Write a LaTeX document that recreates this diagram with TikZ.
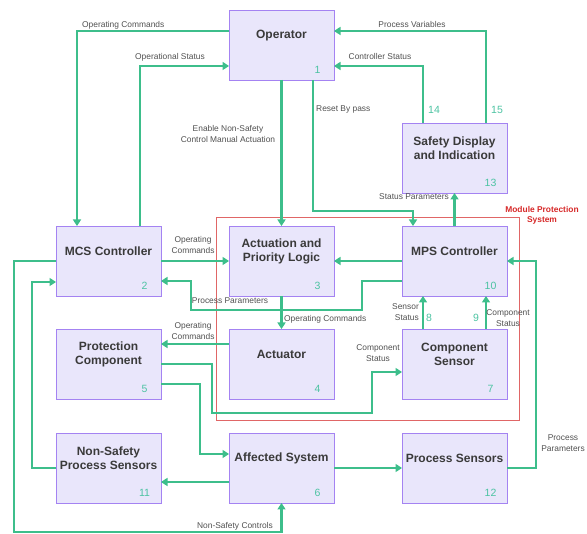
\documentclass[tikz,border=0pt]{standalone}
\usepackage{fontspec}
\setmainfont{Liberation Sans}
\usetikzlibrary{arrows.meta,calc}

\definecolor{flow}{HTML}{3DBE8B}
\definecolor{boxfill}{HTML}{E9E6FB}
\definecolor{boxline}{HTML}{A483F2}
\definecolor{numc}{HTML}{4CC3A2}
\definecolor{lblc}{HTML}{505050}
\definecolor{ttlc}{HTML}{3A3A3A}
\definecolor{mpsred}{HTML}{D62828}
\definecolor{mpsframe}{HTML}{E06666}

\tikzset{
  blk/.style={draw=boxline, fill=boxfill, line width=0.9pt, minimum width=105pt,
    minimum height=70pt, inner sep=0pt, outer sep=0pt},
  ttl/.style={font=\fontsize{12}{14.4}\selectfont\bfseries, text=ttlc, align=center, inner sep=0pt},
  num/.style={font=\fontsize{10.5}{12}\selectfont, text=numc, inner sep=0pt},
  lbl/.style={font=\fontsize{8.4}{11}\selectfont, text=lblc, inner sep=0pt, align=center},
  con/.style={draw=flow, line width=2.8pt, -{Triangle[length=6.5pt,width=8pt]}},
  grp/.style={draw=mpsframe, line width=0.8pt},
  grplbl/.style={font=\fontsize{8.4}{10}\selectfont\bfseries, text=mpsred, align=center, inner sep=0pt},
}

% block: name, centre x, centre y, title, number
\newcommand\mkblock[5]{%
  \node[blk] (#1) at (#2,#3) {};
  \node[ttl] (#1-t) at ([yshift=-25.5pt]#1.north) {#4};
  \node[num] (#1-n) at ([xshift=-16.5pt,yshift=10pt]#1.south east) {#5};
}

\begin{document}
\begin{tikzpicture}[x=1pt,y=-1pt]
\useasboundingbox (0,0) rectangle (587,534);

% Module Protection System grouping frame
\draw[grp] (216,217) rectangle (519,420);
\node[grplbl] (grp-l) at (542,215) {Module Protection\\System};

% blocks
\mkblock{op}{281.5}{45}{Operator}{1}
\mkblock{sdi}{454.5}{158}{Safety Display\\and Indication}{13}
\mkblock{mcs}{108.5}{261}{MCS Controller}{2}
\mkblock{apl}{281.5}{261}{Actuation and\\Priority Logic}{3}
\mkblock{mps}{454.5}{261}{MPS Controller}{10}
\mkblock{pc}{108.5}{364}{Protection\\Component}{5}
\mkblock{act}{281.5}{364}{Actuator}{4}
\mkblock{cs}{454.5}{364}{Component\\Sensor}{7}
\mkblock{nsps}{108.5}{468}{Non-Safety\\Process Sensors}{11}
\mkblock{aff}{281.5}{468}{Affected System}{6}
\mkblock{ps}{454.5}{468}{Process Sensors}{12}

% connectors
\draw[con] ($(op.west)+(0,-14)$) -| ($(mcs.north west)+(21,0)$);
\draw[con] ($(mcs.north west)+(84,0)$) |- ($(op.west)+(0,21)$);
\draw[con] (op.south) -- (apl.north);
\draw[con] ($(op.south west)+(84,0)$) |- ($(mps.north west)+(11,-15)$) -- ($(mps.north west)+(11,0)$);
\draw[con] ($(sdi.north west)+(84,0)$) |- ($(op.east)+(0,-14)$);
\draw[con] ($(sdi.north west)+(21,0)$) |- ($(op.east)+(0,21)$);
\draw[con] (mps.north) -- (sdi.south);
\draw[con] (mcs.east) -- (apl.west);
\draw[con] (mps.west) -- (apl.east);
\draw[con] ($(mps.west)+(0,20)$) -- ++(-40,0) -- ++(0,29) -| ($(mcs.east)+(30,20)$) -- ($(mcs.east)+(0,20)$);
\draw[con] (apl.south) -- (act.north);
\draw[con] ($(act.west)+(0,-20)$) -- ($(pc.east)+(0,-20)$);
\draw[con] (pc.east) -- ++(51,0) -- ++(0,49) -| ($(cs.west)+(-30,8)$) -- ($(cs.west)+(0,8)$);
\draw[con] ($(pc.east)+(0,20)$) -- ++(39,0) |- ($(aff.west)+(0,-14)$);
\draw[con] ($(cs.north west)+(21,0)$) -- ($(mps.south west)+(21,0)$);
\draw[con] ($(cs.north west)+(84,0)$) -- ($(mps.south west)+(84,0)$);
\draw[con] (ps.east) -| ($(mps.east)+(29,0)$) -- (mps.east);
\draw[con] (aff.east) -- (ps.west);
\draw[con] ($(aff.west)+(0,14)$) -- ($(nsps.east)+(0,14)$);
\draw[con] (nsps.west) -- ++(-24,0) |- ($(mcs.west)+(0,21)$);
\draw[con] (mcs.west) -- ++(-42,0) |- ($(aff.south)+(0,29)$) -- (aff.south);

% connector labels
\node[lbl, anchor=west] (l1) at (82,25) {Operating Commands};
\node[lbl, anchor=west] (l2) at (135,57) {Operational Status};
\node[lbl] (l3) at (228,134) {Enable Non-Safety\\Control Manual Actuation};
\node[lbl, anchor=west] (l4) at (316,109) {Reset By pass};
\node[lbl] (l5) at (412,25) {Process Variables};
\node[lbl] (l6) at (380,57) {Controller Status};
\node[num] (n14) at (434,110) {14};
\node[num] (n15) at (497,110) {15};
\node[lbl, anchor=east] (l7) at (449,197) {Status Parameters};
\node[lbl] (l8) at (193,245.5) {Operating\\Commands};
\node[lbl] (l9) at (230,301) {Process Parameters};
\node[lbl, anchor=west] (l10) at (284,319) {Operating Commands};
\node[lbl] (l11) at (193,331.5) {Operating\\Commands};
\node[lbl] (l12) at (378,353.5) {Component\\Status};
\node[lbl, align=right, anchor=east] (l13) at (419,312) {Sensor\\Status};
\node[num] (n8) at (429,318) {8};
\node[num] (n9) at (476,318) {9};
\node[lbl] (l14) at (508,318) {Component\\Status};
\node[lbl] (l15) at (563,443) {Process\\Parameters};
\node[lbl, anchor=east] (l16) at (273,526) {Non-Safety Controls};
\end{tikzpicture}
\end{document}
